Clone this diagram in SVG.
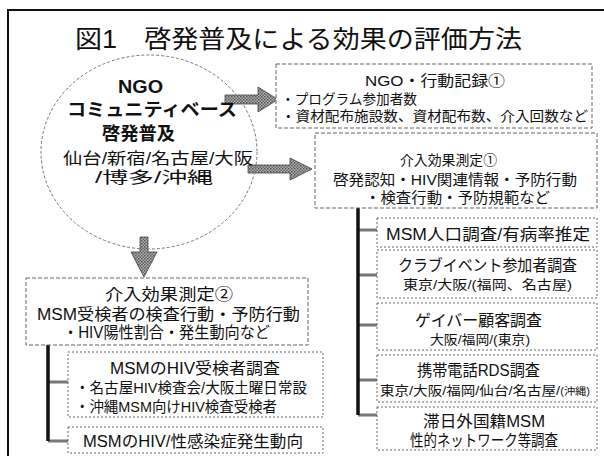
<svg xmlns="http://www.w3.org/2000/svg" width="604" height="456" viewBox="0 0 604 456">
<defs>
<pattern id="hatch" width="3" height="3" patternUnits="userSpaceOnUse">
<rect width="3" height="3" fill="#b0b0b0"/>
<rect width="1.5" height="1.5" fill="#555"/>
<rect x="1.5" y="1.5" width="1.5" height="1.5" fill="#666"/>
</pattern>
<style>
text{font-family:"Liberation Sans","Noto Sans CJK JP",sans-serif;fill:#111;}
.b{font-weight:bold;}
.dash{fill:#fff;stroke:#666;stroke-width:1;stroke-dasharray:4 2;}
.dot{fill:#fff;stroke:#666;stroke-width:1;stroke-dasharray:2 2;}
.arrow{fill:url(#hatch);stroke:#444;stroke-width:0.8;}
.vline{stroke:#111;stroke-width:3.5;fill:none;}
.hline{stroke:#777;stroke-width:3;fill:none;}
</style>
</defs>
<rect x="0" y="0" width="604" height="456" fill="#fff"/>
<rect x="8" y="10" width="610" height="460" fill="none" stroke="#111" stroke-width="2"/>
<text x="75" y="48" font-size="25" textLength="447" lengthAdjust="spacingAndGlyphs">図1　啓発普及による効果の評価方法</text>

<g id="connectors">
<polygon class="arrow" points="225,95 258,95 258,87 278,99.5 258,112 258,104 225,104"/>
<polygon class="arrow" points="248,165 290,165 290,158 312,169 290,180 290,173 248,173"/>
<polygon class="arrow" points="140,237 148,237 148,252 157,252 144,277 131,252 140,252"/>
<path class="hline" d="M358,230H377M358,275H377M358,325H377M358,380H377M358,415H377"/>
<path class="vline" d="M358,208V415"/>
<path class="hline" d="M48,382H68M48,441H68"/>
<path class="vline" d="M48,345V441"/>
</g>

<g id="ngo">
<ellipse cx="149" cy="152" rx="108" ry="97" fill="none" stroke="#777" stroke-width="1" stroke-dasharray="3 2"/>
<text class="b" x="118" y="93" font-size="19" textLength="45" lengthAdjust="spacingAndGlyphs">NGO</text>
<text class="b" x="67" y="116" font-size="18" textLength="170" lengthAdjust="spacingAndGlyphs">コミュニティベース</text>
<text class="b" x="102" y="140" font-size="18" textLength="73" lengthAdjust="spacingAndGlyphs">啓発普及</text>
<text x="63" y="164" font-size="16" textLength="190" lengthAdjust="spacingAndGlyphs">仙台/新宿/名古屋/大阪</text>
<text x="95" y="183" font-size="16" textLength="118" lengthAdjust="spacingAndGlyphs">/博多/沖縄</text>
</g>

<g id="record1">
<rect class="dash" x="276" y="64" width="316" height="64"/>
<text x="365" y="86" font-size="15" textLength="140" lengthAdjust="spacingAndGlyphs">NGO・行動記録①</text>
<text x="281" y="104" font-size="14" textLength="136" lengthAdjust="spacingAndGlyphs">・プログラム参加者数</text>
<text x="281" y="121" font-size="14" textLength="307" lengthAdjust="spacingAndGlyphs">・資材配布施設数、資材配布数、介入回数など</text>
</g>

<g id="effect1">
<rect class="dash" x="315" y="133" width="282" height="75"/>
<text x="400" y="165" font-size="14" textLength="97" lengthAdjust="spacingAndGlyphs">介入効果測定①</text>
<text x="333" y="185" font-size="15" textLength="244" lengthAdjust="spacingAndGlyphs">啓発認知・HIV関連情報・予防行動</text>
<text x="365" y="203" font-size="15" textLength="185" lengthAdjust="spacingAndGlyphs">・検査行動・予防規範など</text>
</g>

<g id="msm-pop">
<rect class="dot" x="377" y="218" width="220" height="29"/>
<text x="386" y="240" font-size="16" textLength="204" lengthAdjust="spacingAndGlyphs">MSM人口調査/有病率推定</text>
</g>
<g id="club">
<rect class="dot" x="377" y="250" width="220" height="48"/>
<text x="398" y="271" font-size="16" textLength="179" lengthAdjust="spacingAndGlyphs">クラブイベント参加者調査</text>
<text x="403" y="289" font-size="13" textLength="169" lengthAdjust="spacingAndGlyphs">東京/大阪/(福岡、名古屋)</text>
</g>
<g id="gaybar">
<rect class="dot" x="377" y="303" width="220" height="47"/>
<text x="415" y="326" font-size="16" textLength="127" lengthAdjust="spacingAndGlyphs">ゲイバー顧客調査</text>
<text x="430" y="344" font-size="13" textLength="100" lengthAdjust="spacingAndGlyphs">大阪/福岡/(東京)</text>
</g>
<g id="rds">
<rect class="dot" x="377" y="355" width="220" height="47"/>
<text x="417" y="376" font-size="16" textLength="123" lengthAdjust="spacingAndGlyphs">携帯電話RDS調査</text>
<text x="380" y="395" font-size="13" textLength="210" lengthAdjust="spacingAndGlyphs">東京/大阪/福岡/仙台/名古屋/<tspan font-size="10">(沖縄)</tspan></text>
</g>
<g id="foreign">
<rect class="dot" x="377" y="407" width="220" height="43"/>
<text x="423" y="427" font-size="16" textLength="122" lengthAdjust="spacingAndGlyphs">滞日外国籍MSM</text>
<text x="410" y="446" font-size="16" textLength="148" lengthAdjust="spacingAndGlyphs">性的ネットワーク等調査</text>
</g>

<g id="effect2">
<rect class="dash" x="26" y="278" width="282" height="67"/>
<text x="105" y="300" font-size="16" textLength="128" lengthAdjust="spacingAndGlyphs">介入効果測定②</text>
<text x="37" y="320" font-size="16" textLength="263" lengthAdjust="spacingAndGlyphs">MSM受検者の検査行動・予防行動</text>
<text x="63" y="338" font-size="16" textLength="207" lengthAdjust="spacingAndGlyphs">・HIV陽性割合・発生動向など</text>
</g>
<g id="hivtest">
<rect class="dot" x="68" y="352" width="255" height="65"/>
<text x="110" y="374" font-size="16" textLength="170" lengthAdjust="spacingAndGlyphs">MSMのHIV受検者調査</text>
<text x="75" y="393" font-size="15" textLength="232" lengthAdjust="spacingAndGlyphs">・名古屋HIV検査会/大阪土曜日常設</text>
<text x="75" y="412" font-size="15" textLength="202" lengthAdjust="spacingAndGlyphs">・沖縄MSM向けHIV検査受検者</text>
</g>
<g id="sti">
<rect class="dot" x="68" y="427" width="255" height="26"/>
<text x="83" y="447" font-size="16" textLength="220" lengthAdjust="spacingAndGlyphs">MSMのHIV/性感染症発生動向</text>
</g>
</svg>
